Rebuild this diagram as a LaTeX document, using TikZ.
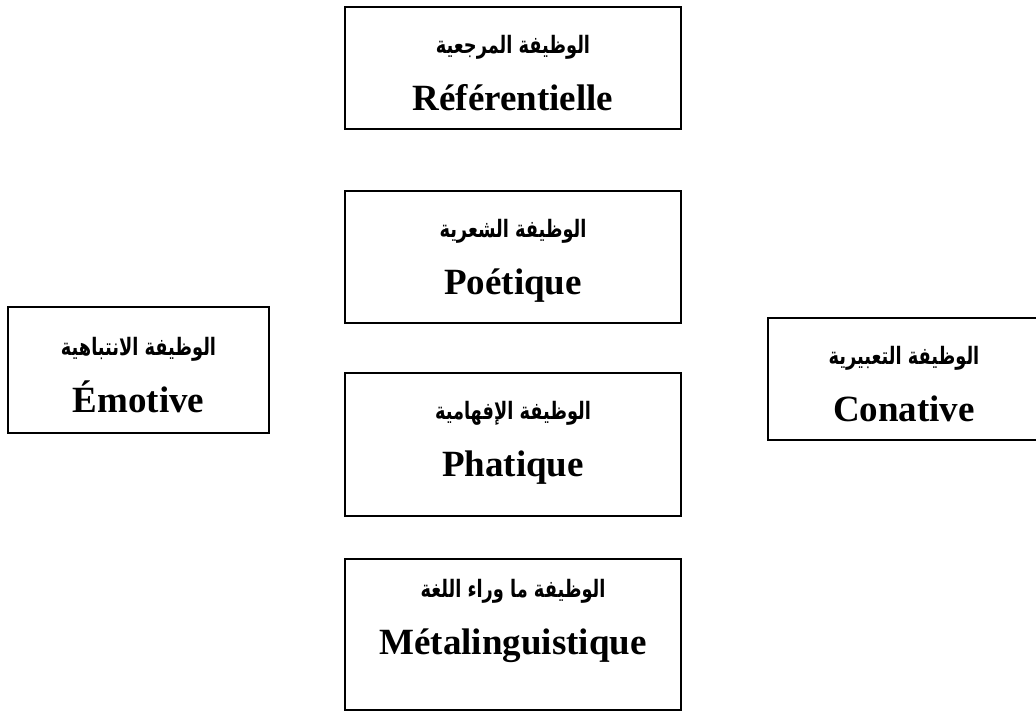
\documentclass[tikz,border=0pt]{standalone}
\usepackage{fontspec}
\setmainfont{Liberation Serif}
\newfontfamily\arabicfont[Script=Arabic, FakeStretch=0.74]{DejaVu Sans}
\TeXXeTstate=1
\usetikzlibrary{positioning}

\newcommand{\arline}[1]{{\arabicfont\fontsize{24}{57}\selectfont\beginR #1\endR}}

\tikzset{
  funcbox/.style={draw, line width=2pt, minimum width=336pt, inner sep=0pt},
  functext/.style={align=center, font=\fontsize{37}{57}\selectfont\bfseries},
}

\begin{document}
\begin{tikzpicture}[x=1pt,y=1pt]
\useasboundingbox (0,0) rectangle (1036,-713);
% boxes
\node[funcbox, minimum height=122pt] (ref) at (513,-68) {};
\node[funcbox, minimum height=132pt] (poet) at (513,-257) {};
\node[funcbox, minimum height=143pt] (phat) at (513,-444.5) {};
\node[funcbox, minimum height=151pt] (meta) at (513,-634.5) {};
\node[funcbox, minimum width=261pt, minimum height=126pt] (emo) at (138.5,-370) {};
\node[funcbox, minimum width=272pt, minimum height=122pt] (conat) at (904,-379) {};
% labels
\node[functext] (reftext) at ([yshift=-5pt]ref.center) {\arline{الوظيفة المرجعية}\\ Référentielle};
\node[functext] (poettext) at ([yshift=-4pt]poet.center) {\arline{الوظيفة الشعرية}\\ Poétique};
\node[functext] (phattext) at ([yshift=2pt]phat.center) {\arline{الوظيفة الإفهامية}\\ Phatique};
\node[functext] (metatext) at ([yshift=14pt]meta.center) {\arline{الوظيفة ما وراء اللغة}\\ Métalinguistique};
\node[functext] (emotext) at ([yshift=-5pt]emo.center) {\arline{الوظيفة الانتباهية}\\ Émotive};
\node[functext] (conattext) at ([yshift=-5pt]conat.center) {\arline{الوظيفة التعبيرية}\\ Conative};
\end{tikzpicture}
\end{document}
